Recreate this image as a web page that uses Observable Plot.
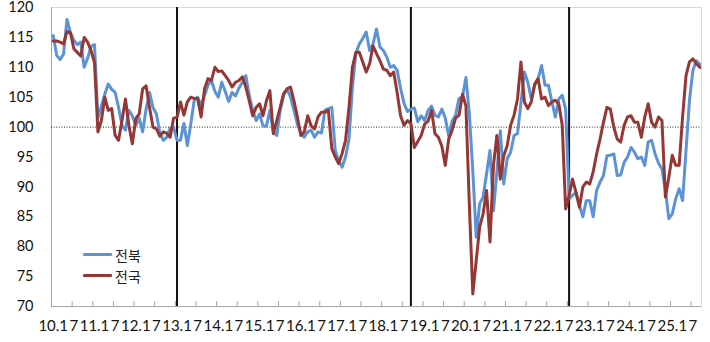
<!DOCTYPE html>
<html>
<head>
<meta charset="utf-8">
<script src="https://cdn.jsdelivr.net/npm/d3@7"></script>
<script src="https://cdn.jsdelivr.net/npm/@observablehq/plot@0.6"></script>
<style>
  html, body { margin: 0; padding: 0; background: #fff; }
  #wrap { position: relative; width: 710px; height: 342px; }
  #wrap svg { overflow: visible; }
  #legend { position: absolute; left: 83px; top: 244px; font-family: "Noto Sans CJK KR", "Noto Sans", sans-serif; font-size: 14px; color: #222; }
  .item { display: flex; align-items: center; height: 21px; }
  .sw { width: 29px; height: 3px; margin-right: 3px; border-radius: 1px; }
</style>
</head>
<body>
<div id="wrap"><div id="legend"></div></div>
<script>
// Monthly index, Jan 2010 .. Sep 2025
const startYear = 2010;
const seriesNames = ["전북", "전국"];
const seriesColors = ["#5b93d6", "#953735"];

const jeonbuk = [
  115.3, 112, 111.3, 112.2, 118, 115.8, 114.5, 113.8, 114.2, 110,
  111.5, 113.5, 113.8, 101.5, 103.5, 105.5, 107.2, 106.3, 105.8, 103.3,
  100.3, 99.5, 102.8, 101.9, 100.3, 101.5, 99.2, 103, 105.8, 103.3,
  102.2, 99, 97.8, 98.3, 99.8, 100, 97.8, 97.8, 100.6, 96.9,
  100.5, 104.5, 105, 103.6, 105.3, 107, 107.8, 106, 105, 107.5,
  106, 104.3, 105.8, 105.2, 106.5, 107.5, 108.6, 105.3, 102.8, 101.1,
  102.2, 100.2, 100.2, 102.8, 99.2, 98.6, 102.8, 105.3, 106.4, 105,
  102.8, 100.5, 99, 98.3, 99.2, 99.5, 98.3, 99.2, 99, 102.8,
  103.1, 103.3, 96.1, 94.4, 93.3, 95, 98, 106.7, 112.3, 113.9,
  114.8, 115.9, 112.8, 113.9, 116.4, 113.4, 112.8, 111.7, 110, 110.3,
  109.5, 106.5, 104, 102.6, 103, 103.2, 100.9, 101.9, 101.1, 102.8,
  103.5, 102, 101.7, 103, 101.5, 98.5, 101, 102, 104.8, 105,
  108.3, 102.2, 92.7, 81.6, 87.2, 88.3, 92.2, 96.1, 86, 92.5,
  99.4, 90.5, 94.7, 95.8, 98.6, 98.9, 104, 109.2, 107.5, 104.7,
  107, 108.1, 110.3, 107, 107, 104.2, 101.7, 104.7, 105.3, 103,
  88, 88.6, 89.1, 86.9, 85, 87.7, 87.7, 85, 89.4, 90.8,
  91.9, 95.2, 95.3, 95.5, 91.9, 92, 94.1, 95, 96.6, 95.8,
  94.7, 95, 93.6, 97.5, 97.8, 95.5, 94, 93, 89.5, 84.7,
  85.5, 88, 89.7, 87.7, 96.1, 104.5, 109.5, 111.1, 110.5
];

const national = [
  114.4, 114.4, 114.2, 113.9, 116, 115.8, 113.1, 112.5, 111.9, 115,
  114.2, 112.8, 110.8, 99.2, 101.1, 105, 102.8, 103.1, 98.6, 97.8,
  101.1, 104.7, 100.3, 97.2, 101.4, 102.2, 106.4, 106.9, 103.3, 100,
  99.7, 98.5, 99.2, 99, 98.3, 101.5, 101.6, 104.2, 102, 104.2,
  105, 104.8, 104.8, 101.7, 106.4, 108.1, 107.8, 110, 109.3, 109.4,
  108.6, 107.8, 106.7, 107.5, 107.8, 108.4, 106.7, 104.4, 101.9, 103.3,
  103.9, 101.9, 104.4, 106.1, 98.9, 101.1, 103.3, 105.6, 106.4, 106.7,
  104.4, 101.7, 98.6, 99.2, 101.9, 100.2, 99.7, 101.7, 102.5, 102.5,
  102.8, 96.4, 95, 93.9, 95.6, 97.8, 103.3, 110, 112.5, 112.5,
  110.9, 109.2, 110.6, 113.6, 112.3, 111.1, 109.7, 109.5, 108.6, 109.2,
  105.8, 101.9, 100.3, 101.1, 100.6, 96.6, 97.6, 98.6, 100.5, 101,
  102.8, 98.9, 98.3, 96.8, 93.6, 98, 99.5, 101.5, 102, 105.5,
  103.5, 87, 72.1, 77.7, 83.3, 85.5, 89.4, 80.8, 93.6, 98.6,
  91.3, 95.2, 96.9, 100.3, 102, 104.7, 110.9, 104.2, 103.1, 104.2,
  107.2, 108.1, 104.7, 105, 103.6, 104.2, 104.5, 103.9, 100.3, 86.3,
  88.6, 91.3, 89.1, 86.6, 90, 90.8, 90.5, 92.5, 95.5, 98,
  100.8, 103.3, 103, 100, 98, 97.5, 100.3, 101.7, 101.9, 100.8,
  100.8, 98.3, 101.7, 103.9, 100.8, 100, 101.7, 101.1, 88.3, 91.6,
  95.3, 93.6, 93.6, 101.7, 108.6, 110.9, 111.4, 110.6, 110
];

// Months marked by vertical lines
const eventMonths = [[2013, 1], [2018, 9], [2022, 7]];
const yTicks = [70, 75, 80, 85, 90, 95, 100, 105, 110, 115, 120];
const refLevel = 100;

const monthIndex = ([y, m]) => (y - startYear) * 12 + (m - 1);
const n = jeonbuk.length;
const labelPos = d3.range(0, n, 6);           // Jan and Jul of each year
const tickPos = d3.range(-0.5, n - 1, 6);     // category boundaries
const labelText = (d) => d % 12 === 0 ? `${(startYear + d / 12) % 100}.1` : "7";

const rows = [
  ...jeonbuk.map((v, i) => ({i, v, s: seriesNames[0]})),
  ...national.map((v, i) => ({i, v, s: seriesNames[1]}))
];

const chart = Plot.plot({
  width: 710,
  height: 342,
  marginLeft: 51,
  marginRight: 9,
  marginTop: 7,
  marginBottom: 36,
  style: {fontFamily: "Lato, 'Noto Sans', sans-serif", fontSize: "15px", background: "#fff", color: "#111", overflow: "visible"},
  x: {domain: [-0.5, n - 0.5], axis: null},
  y: {domain: [70, 120], axis: null},
  color: {domain: seriesNames, range: seriesColors},
  marks: [
    Plot.frame({stroke: "#d9d9d9"}),
    Plot.ruleY([70], {stroke: "#a6a6a6"}),
    Plot.ruleX([-0.5], {stroke: "#a6a6a6"}),
    Plot.tickX(tickPos, {x: (d) => d, insetTop: 294, stroke: "#a6a6a6"}),
    Plot.axisY({ticks: yTicks, tickSize: 0, tickPadding: 18, fontSize: 14.5, label: null, tickFormat: (d) => String(d)}),
    Plot.axisX({ticks: labelPos, tickSize: 0, tickPadding: 14, fontSize: 15, label: null, tickFormat: labelText}),
    Plot.ruleY([refLevel], {stroke: "#222", strokeDasharray: "1,1.6", strokeWidth: 1}),
    Plot.ruleX(eventMonths.map(monthIndex), {stroke: "#111", strokeWidth: 2}),
    Plot.line(rows, {x: "i", y: "v", z: "s", stroke: "s", strokeWidth: 3, strokeLinejoin: "round", strokeLinecap: "round"})
  ]
});

const wrap = document.getElementById("wrap");
wrap.insertBefore(chart, wrap.firstChild);

const legend = document.getElementById("legend");
seriesNames.forEach((name, k) => {
  const item = document.createElement("div");
  item.className = "item";
  const sw = document.createElement("div");
  sw.className = "sw";
  sw.style.background = seriesColors[k];
  const t = document.createElement("span");
  t.textContent = name;
  item.appendChild(sw);
  item.appendChild(t);
  legend.appendChild(item);
});
</script>
</body>
</html>
